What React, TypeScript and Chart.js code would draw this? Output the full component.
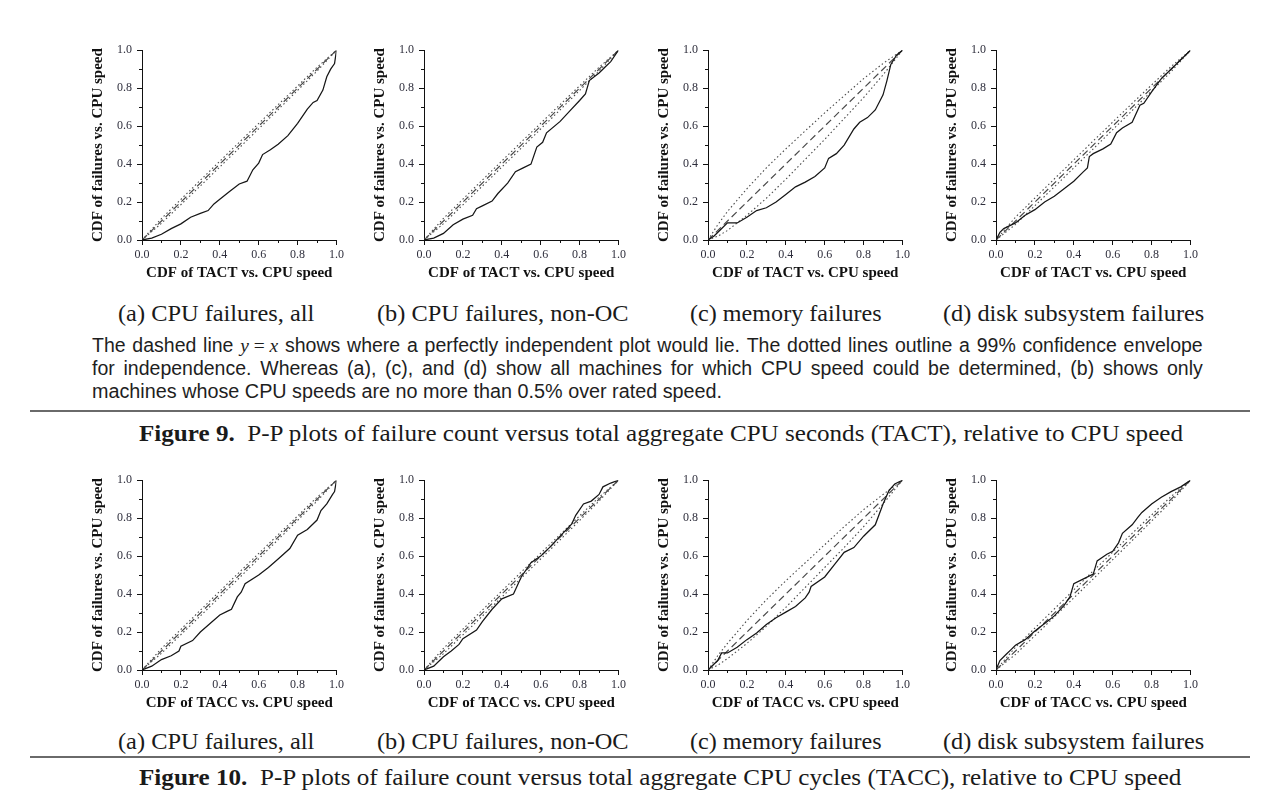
import React, { useEffect, useLayoutEffect, useRef, useState } from 'react';
import { Chart, registerables } from 'chart.js';

Chart.register(...registerables);

type Pt = [number, number];

// ---- axis ticks ----
const TICK_POSITIONS = [0, 0.1, 0.2, 0.3, 0.4, 0.5, 0.6, 0.7, 0.8, 0.9, 1.0];
const TICK_LABELS = ['0.0', '0.2', '0.4', '0.6', '0.8', '1.0'];

// ---- reference line y = x ----
const DIAGONAL: Pt[] = [[0, 0], [1, 1]];

// ---- Figure 9: failures vs. TACT ----
const TACT_CPU_ALL: Pt[] = [[0, 0], [0.05, 0.01], [0.1, 0.03], [0.15, 0.06], [0.2, 0.085], [0.25, 0.12], [0.3, 0.14], [0.34, 0.155], [0.37, 0.19], [0.4, 0.215], [0.45, 0.255], [0.5, 0.295], [0.54, 0.31], [0.57, 0.37], [0.6, 0.405], [0.62, 0.45], [0.66, 0.475], [0.7, 0.505], [0.75, 0.55], [0.8, 0.615], [0.85, 0.69], [0.88, 0.725], [0.9, 0.735], [0.93, 0.79], [0.95, 0.86], [0.97, 0.9], [0.99, 0.93], [1, 1]];
const TACT_CPU_ALL_HI: Pt[] = [[0, 0], [0.1, 0.113], [0.3, 0.315], [0.5, 0.515], [0.7, 0.713], [0.9, 0.91], [1, 1]];
const TACT_CPU_ALL_LO: Pt[] = [[0, 0], [0.1, 0.088], [0.3, 0.285], [0.5, 0.485], [0.7, 0.687], [0.9, 0.89], [1, 1]];

const TACT_CPU_NONOC: Pt[] = [[0, 0], [0.05, 0.01], [0.1, 0.035], [0.15, 0.08], [0.2, 0.11], [0.25, 0.13], [0.27, 0.165], [0.3, 0.18], [0.35, 0.205], [0.38, 0.245], [0.43, 0.3], [0.47, 0.36], [0.51, 0.38], [0.55, 0.4], [0.58, 0.49], [0.61, 0.515], [0.63, 0.565], [0.7, 0.625], [0.75, 0.68], [0.8, 0.735], [0.83, 0.77], [0.85, 0.84], [0.9, 0.88], [0.93, 0.91], [0.96, 0.94], [1, 1]];
const TACT_CPU_NONOC_HI: Pt[] = [[0, 0], [0.1, 0.114], [0.3, 0.316], [0.5, 0.516], [0.7, 0.714], [0.9, 0.91], [1, 1]];
const TACT_CPU_NONOC_LO: Pt[] = [[0, 0], [0.1, 0.086], [0.3, 0.284], [0.5, 0.484], [0.7, 0.686], [0.9, 0.89], [1, 1]];

const TACT_MEMORY: Pt[] = [[0, 0], [0.03, 0.02], [0.06, 0.05], [0.1, 0.09], [0.15, 0.09], [0.2, 0.12], [0.25, 0.155], [0.3, 0.17], [0.35, 0.2], [0.4, 0.24], [0.45, 0.28], [0.5, 0.305], [0.55, 0.335], [0.6, 0.38], [0.62, 0.43], [0.66, 0.455], [0.7, 0.5], [0.75, 0.585], [0.78, 0.62], [0.82, 0.645], [0.86, 0.685], [0.9, 0.765], [0.92, 0.84], [0.94, 0.925], [0.97, 0.975], [1, 1]];
const TACT_MEMORY_HI: Pt[] = [[0, 0], [0.05, 0.08], [0.1, 0.15], [0.2, 0.27], [0.3, 0.38], [0.4, 0.48], [0.5, 0.575], [0.6, 0.67], [0.7, 0.76], [0.8, 0.85], [0.9, 0.93], [0.95, 0.965], [1, 1]];
const TACT_MEMORY_LO: Pt[] = [[0, 0], [0.05, 0.02], [0.1, 0.05], [0.2, 0.13], [0.3, 0.22], [0.4, 0.32], [0.5, 0.425], [0.6, 0.53], [0.7, 0.64], [0.8, 0.75], [0.9, 0.87], [0.95, 0.935], [1, 1]];

const TACT_DISK: Pt[] = [[0, 0], [0.02, 0.04], [0.04, 0.06], [0.1, 0.09], [0.15, 0.13], [0.2, 0.16], [0.25, 0.2], [0.3, 0.23], [0.35, 0.27], [0.4, 0.31], [0.45, 0.36], [0.47, 0.38], [0.48, 0.44], [0.5, 0.455], [0.55, 0.48], [0.59, 0.505], [0.62, 0.565], [0.65, 0.59], [0.7, 0.62], [0.74, 0.71], [0.76, 0.72], [0.8, 0.78], [0.85, 0.85], [0.9, 0.9], [0.95, 0.95], [1, 1]];
const TACT_DISK_HI: Pt[] = [[0, 0], [0.1, 0.12], [0.3, 0.322], [0.5, 0.522], [0.7, 0.72], [0.9, 0.914], [1, 1]];
const TACT_DISK_LO: Pt[] = [[0, 0], [0.1, 0.082], [0.3, 0.28], [0.5, 0.48], [0.7, 0.682], [0.9, 0.887], [1, 1]];

// ---- Figure 10: failures vs. TACC ----
const TACC_CPU_ALL: Pt[] = [[0, 0], [0.05, 0.02], [0.1, 0.055], [0.15, 0.075], [0.19, 0.1], [0.2, 0.125], [0.26, 0.155], [0.3, 0.2], [0.35, 0.245], [0.4, 0.29], [0.44, 0.31], [0.46, 0.32], [0.49, 0.385], [0.51, 0.41], [0.53, 0.455], [0.6, 0.5], [0.65, 0.54], [0.7, 0.585], [0.76, 0.64], [0.8, 0.71], [0.85, 0.74], [0.9, 0.79], [0.92, 0.84], [0.95, 0.875], [0.98, 0.925], [0.99, 0.94], [1, 1]];
const TACC_CPU_ALL_HI: Pt[] = [[0, 0], [0.1, 0.113], [0.3, 0.315], [0.5, 0.515], [0.7, 0.713], [0.9, 0.91], [1, 1]];
const TACC_CPU_ALL_LO: Pt[] = [[0, 0], [0.1, 0.088], [0.3, 0.285], [0.5, 0.485], [0.7, 0.687], [0.9, 0.89], [1, 1]];

const TACC_CPU_NONOC: Pt[] = [[0, 0], [0.05, 0.02], [0.1, 0.07], [0.14, 0.1], [0.18, 0.135], [0.2, 0.165], [0.27, 0.21], [0.3, 0.255], [0.35, 0.32], [0.4, 0.375], [0.46, 0.4], [0.5, 0.49], [0.55, 0.565], [0.6, 0.6], [0.65, 0.65], [0.7, 0.705], [0.76, 0.77], [0.78, 0.815], [0.82, 0.875], [0.86, 0.89], [0.9, 0.925], [0.92, 0.965], [0.96, 0.985], [1, 1]];
const TACC_CPU_NONOC_HI: Pt[] = [[0, 0], [0.1, 0.114], [0.3, 0.316], [0.5, 0.516], [0.7, 0.714], [0.9, 0.91], [1, 1]];
const TACC_CPU_NONOC_LO: Pt[] = [[0, 0], [0.1, 0.086], [0.3, 0.284], [0.5, 0.484], [0.7, 0.686], [0.9, 0.89], [1, 1]];

const TACC_MEMORY: Pt[] = [[0, 0], [0.03, 0.03], [0.05, 0.05], [0.07, 0.09], [0.1, 0.09], [0.15, 0.12], [0.2, 0.16], [0.25, 0.195], [0.3, 0.24], [0.35, 0.275], [0.4, 0.305], [0.45, 0.335], [0.5, 0.38], [0.52, 0.41], [0.53, 0.44], [0.6, 0.49], [0.65, 0.555], [0.7, 0.62], [0.75, 0.645], [0.8, 0.705], [0.86, 0.765], [0.9, 0.875], [0.93, 0.945], [0.96, 0.98], [1, 1]];
const TACC_MEMORY_HI: Pt[] = [[0, 0], [0.05, 0.075], [0.1, 0.14], [0.2, 0.26], [0.3, 0.37], [0.4, 0.47], [0.5, 0.565], [0.6, 0.66], [0.7, 0.755], [0.8, 0.845], [0.9, 0.925], [0.95, 0.962], [1, 1]];
const TACC_MEMORY_LO: Pt[] = [[0, 0], [0.05, 0.025], [0.1, 0.06], [0.2, 0.14], [0.3, 0.23], [0.4, 0.33], [0.5, 0.435], [0.6, 0.54], [0.7, 0.645], [0.8, 0.755], [0.9, 0.875], [0.95, 0.938], [1, 1]];

const TACC_DISK: Pt[] = [[0, 0], [0.02, 0.05], [0.05, 0.08], [0.08, 0.11], [0.1, 0.13], [0.15, 0.16], [0.2, 0.205], [0.25, 0.245], [0.3, 0.285], [0.35, 0.34], [0.38, 0.385], [0.4, 0.455], [0.45, 0.48], [0.5, 0.505], [0.52, 0.575], [0.57, 0.61], [0.6, 0.625], [0.63, 0.67], [0.65, 0.72], [0.7, 0.765], [0.73, 0.805], [0.75, 0.83], [0.8, 0.875], [0.85, 0.91], [0.9, 0.94], [0.95, 0.965], [1, 1]];
const TACC_DISK_HI: Pt[] = [[0, 0], [0.1, 0.12], [0.3, 0.322], [0.5, 0.522], [0.7, 0.72], [0.9, 0.914], [1, 1]];
const TACC_DISK_LO: Pt[] = [[0, 0], [0.1, 0.082], [0.3, 0.28], [0.5, 0.48], [0.7, 0.682], [0.9, 0.887], [1, 1]];

// ---- text ----
const X_TITLE_TACT = 'CDF of TACT vs. CPU speed';
const X_TITLE_TACC = 'CDF of TACC vs. CPU speed';
const Y_TITLE = 'CDF of failures vs. CPU speed';
const SUBCAPTIONS = ['(a) CPU failures, all', '(b) CPU failures, non-OC', '(c) memory failures', '(d) disk subsystem failures'];
const SUBCAPTION_SPANS: [number, number][] = [[118, 314], [377, 629], [690, 882], [943, 1204]];

// ---- layout of the plotting areas ----
const PLOT_LEFTS = [142, 424, 708, 996];
const PLOT_TOPS = [46, 476];
const PLOT_W = 195;
const PLOT_H = 194;
const Y_AXIS_W = 60;
const X_AXIS_H = 45;
const PAD_TOP = 8;
const PAD_RIGHT = 10;
const CANVAS_W = Y_AXIS_W + PLOT_W + PAD_RIGHT;
const CANVAS_H = PAD_TOP + PLOT_H + X_AXIS_H;

type PanelSpec = {
  left: number;
  top: number;
  xTitle: string;
  curve: Pt[];
  hi: Pt[];
  lo: Pt[];
};

const PANELS: PanelSpec[] = [
  { left: PLOT_LEFTS[0], top: PLOT_TOPS[0], xTitle: X_TITLE_TACT, curve: TACT_CPU_ALL, hi: TACT_CPU_ALL_HI, lo: TACT_CPU_ALL_LO },
  { left: PLOT_LEFTS[1], top: PLOT_TOPS[0], xTitle: X_TITLE_TACT, curve: TACT_CPU_NONOC, hi: TACT_CPU_NONOC_HI, lo: TACT_CPU_NONOC_LO },
  { left: PLOT_LEFTS[2], top: PLOT_TOPS[0], xTitle: X_TITLE_TACT, curve: TACT_MEMORY, hi: TACT_MEMORY_HI, lo: TACT_MEMORY_LO },
  { left: PLOT_LEFTS[3], top: PLOT_TOPS[0], xTitle: X_TITLE_TACT, curve: TACT_DISK, hi: TACT_DISK_HI, lo: TACT_DISK_LO },
  { left: PLOT_LEFTS[0], top: PLOT_TOPS[1], xTitle: X_TITLE_TACC, curve: TACC_CPU_ALL, hi: TACC_CPU_ALL_HI, lo: TACC_CPU_ALL_LO },
  { left: PLOT_LEFTS[1], top: PLOT_TOPS[1], xTitle: X_TITLE_TACC, curve: TACC_CPU_NONOC, hi: TACC_CPU_NONOC_HI, lo: TACC_CPU_NONOC_LO },
  { left: PLOT_LEFTS[2], top: PLOT_TOPS[1], xTitle: X_TITLE_TACC, curve: TACC_MEMORY, hi: TACC_MEMORY_HI, lo: TACC_MEMORY_LO },
  { left: PLOT_LEFTS[3], top: PLOT_TOPS[1], xTitle: X_TITLE_TACC, curve: TACC_DISK, hi: TACC_DISK_HI, lo: TACC_DISK_LO },
];

const SERIF = '"Liberation Serif", "Times New Roman", serif';
const SANS = '"Liberation Sans", Arial, sans-serif';

const toXY = (pts: Pt[]) => pts.map(([x, y]) => ({ x, y }));

// short minor ticks between the labelled ones
const minorTicks = {
  id: 'minorTicks',
  afterDraw(chart: any) {
    const { ctx, chartArea } = chart;
    const xs = chart.scales.x;
    const ys = chart.scales.y;
    ctx.save();
    ctx.strokeStyle = '#111';
    ctx.lineWidth = 1;
    TICK_POSITIONS.forEach((v, i) => {
      if (i % 2 === 0) return;
      const px = Math.round(xs.getPixelForValue(v)) + 0.5;
      ctx.beginPath();
      ctx.moveTo(px, chartArea.bottom);
      ctx.lineTo(px, chartArea.bottom + 3);
      ctx.stroke();
      const py = Math.round(ys.getPixelForValue(v)) + 0.5;
      ctx.beginPath();
      ctx.moveTo(chartArea.left, py);
      ctx.lineTo(chartArea.left - 3, py);
      ctx.stroke();
    });
    ctx.restore();
  },
};

function axis(title: string, isX: boolean) {
  return {
    type: 'linear',
    min: 0,
    max: 1,
    afterBuildTicks: (scale: any) => {
      scale.ticks = TICK_POSITIONS.map((value) => ({ value }));
    },
    afterFit: (scale: any) => {
      if (isX) scale.height = X_AXIS_H;
      else scale.width = Y_AXIS_W;
    },
    ticks: {
      autoSkip: false,
      maxRotation: 0,
      padding: isX ? 3 : 5,
      color: '#2e2e3c',
      font: { family: SERIF, size: 12 },
      callback: (_v: any, i: number) => (i % 2 === 0 ? TICK_LABELS[i / 2] : ''),
    },
    grid: {
      display: true,
      drawOnChartArea: false,
      drawTicks: true,
      tickLength: 5,
      tickWidth: 1,
      tickColor: (c: any) => (c.index % 2 === 0 ? '#111' : 'rgba(0,0,0,0)'),
    },
    border: { display: true, color: '#111', width: 1 },
    title: {
      display: true,
      text: title,
      color: '#111',
      font: { family: SERIF, size: 15, weight: 'bold' },
      padding: isX ? { top: 0, bottom: 3 } : { top: 7, bottom: 0 },
    },
  };
}

function Panel({ spec }: { spec: PanelSpec }) {
  const ref = useRef<HTMLCanvasElement>(null);
  useEffect(() => {
    const chart = new Chart(ref.current as HTMLCanvasElement, {
      type: 'scatter',
      data: {
        datasets: [
          { data: toXY(spec.curve), showLine: true, borderColor: '#161616', borderWidth: 1.25, pointRadius: 0 },
          { data: toXY(DIAGONAL), showLine: true, borderColor: '#4a4a4a', borderWidth: 1.2, borderDash: [7, 4], pointRadius: 0 },
          { data: toXY(spec.hi), showLine: true, borderColor: '#4a4a4a', borderWidth: 1.1, borderDash: [1.5, 2.5], pointRadius: 0 },
          { data: toXY(spec.lo), showLine: true, borderColor: '#4a4a4a', borderWidth: 1.1, borderDash: [1.5, 2.5], pointRadius: 0 },
        ],
      } as any,
      options: {
        animation: false,
        responsive: false,
        devicePixelRatio: 1,
        layout: { padding: { top: PAD_TOP, right: PAD_RIGHT, left: 0, bottom: 0 } },
        plugins: { legend: { display: false }, tooltip: { enabled: false } },
        scales: {
          x: axis(spec.xTitle, true),
          y: axis(Y_TITLE, false),
        } as any,
      },
      plugins: [minorTicks],
    });
    return () => chart.destroy();
  }, [spec]);
  return (
    <canvas
      ref={ref}
      width={CANVAS_W}
      height={CANVAS_H}
      style={{ position: 'absolute', left: spec.left - Y_AXIS_W, top: spec.top - PAD_TOP, width: CANVAS_W, height: CANVAS_H }}
    />
  );
}

// text stretched horizontally to fill [x0, x1]
function Fit({ x0, x1, cy, style, children }: { x0: number; x1: number; cy: number; style: React.CSSProperties; children: React.ReactNode }) {
  const ref = useRef<HTMLDivElement>(null);
  const [s, setS] = useState(1);
  useLayoutEffect(() => {
    const w = ref.current ? ref.current.offsetWidth : 0;
    if (w > 0) setS((x1 - x0) / w);
  }, [x0, x1]);
  return (
    <div
      ref={ref}
      style={{
        position: 'absolute',
        left: x0,
        top: cy,
        whiteSpace: 'nowrap',
        lineHeight: 1,
        transformOrigin: '0 50%',
        transform: `translateY(-50%) scaleX(${s})`,
        ...style,
      }}
    >
      {children}
    </div>
  );
}

function Justified({ x0, x1, cy, tokens, style }: { x0: number; x1: number; cy: number; tokens: React.ReactNode[]; style: React.CSSProperties }) {
  return (
    <div
      style={{
        position: 'absolute',
        left: x0,
        width: x1 - x0,
        top: cy,
        transform: 'translateY(-50%)',
        display: 'flex',
        justifyContent: 'space-between',
        whiteSpace: 'nowrap',
        lineHeight: 1,
        ...style,
      }}
    >
      {tokens.map((t, i) => (
        <span key={i}>{t}</span>
      ))}
    </div>
  );
}

const MATH = (
  <span style={{ fontFamily: SERIF }}>
    <i>y</i> = <i>x</i>
  </span>
);

const PARA_LINE_1: React.ReactNode[] = [
  'The', 'dashed', 'line', MATH, 'shows', 'where', 'a', 'perfectly', 'independent', 'plot', 'would', 'lie.',
  'The', 'dotted', 'lines', 'outline', 'a', '99%', 'confidence', 'envelope',
];
const PARA_LINE_2 = 'for independence. Whereas (a), (c), and (d) show all machines for which CPU speed could be determined, (b) shows only'.split(' ');
const PARA_LINE_3 = 'machines whose CPU speeds are no more than 0.5% over rated speed.';

export default function App() {
  const serifCap: React.CSSProperties = { fontFamily: SERIF, fontSize: 23, color: '#1a1a1a' };
  const para: React.CSSProperties = { fontFamily: SANS, fontSize: 19.5, color: '#1e1e1e' };
  const rule = (y: number) => (
    <div style={{ position: 'absolute', left: 30, top: y - 1, width: 1220, height: 2, background: '#6a6a6a' }} />
  );
  return (
    <div style={{ position: 'fixed', left: 0, top: 0, width: 1280, height: 806, background: '#fff', overflow: 'hidden' }}>
      {PANELS.map((p, i) => (
        <Panel key={i} spec={p} />
      ))}

      {SUBCAPTIONS.map((t, i) => (
        <Fit key={'c1' + i} x0={SUBCAPTION_SPANS[i][0]} x1={SUBCAPTION_SPANS[i][1]} cy={313} style={serifCap}>
          {t}
        </Fit>
      ))}
      {SUBCAPTIONS.map((t, i) => (
        <Fit key={'c2' + i} x0={SUBCAPTION_SPANS[i][0]} x1={SUBCAPTION_SPANS[i][1]} cy={741} style={serifCap}>
          {t}
        </Fit>
      ))}

      <Justified x0={92} x1={1203} cy={346} tokens={PARA_LINE_1} style={para} />
      <Justified x0={92} x1={1203} cy={369} tokens={PARA_LINE_2} style={para} />
      <Fit x0={92} x1={722} cy={392} style={para}>
        {PARA_LINE_3}
      </Fit>

      {rule(411)}
      <Fit x0={139} x1={1183} cy={433} style={serifCap}>
        <b>Figure 9.</b>&nbsp; P-P plots of failure count versus total aggregate CPU seconds (TACT), relative to CPU speed
      </Fit>

      {rule(757)}
      <Fit x0={139} x1={1181} cy={777} style={serifCap}>
        <b>Figure 10.</b>&nbsp; P-P plots of failure count versus total aggregate CPU cycles (TACC), relative to CPU speed
      </Fit>
    </div>
  );
}
